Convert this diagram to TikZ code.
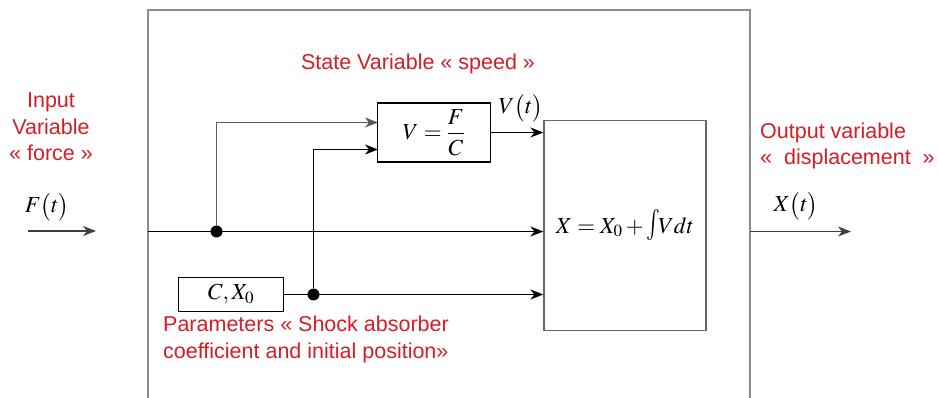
\documentclass[tikz,border=0pt]{standalone}
\usepackage{mathptmx}
\usepackage[no-math]{fontspec}
\setmainfont{Liberation Sans}
\usetikzlibrary{arrows.meta}
\definecolor{labelred}{RGB}{214,28,36}
\begin{document}
\begin{tikzpicture}[x=1pt, y=-1pt,
		block/.style={draw, line width=1.2pt, inner sep=0pt},
		wire/.style={line width=1.6pt},
		arr/.style={wire, -{Stealth[length=13pt, width=10pt, inset=4pt]}},
		junction/.style={circle, fill, inner sep=0pt, minimum size=12pt},
		redtext/.style={text=labelred, font=\fontsize{21.5}{26.5}\selectfont, align=center, inner sep=1pt},
		mathtext/.style={font=\fontsize{23}{27}\selectfont, inner sep=1pt},
	]
	\useasboundingbox (0,0) rectangle (938,398);

	% system frame, open at the bottom
	\draw[black!45, line width=1.8pt] (148,398) -- (148,10) -- (750,10) -- (750,398);

	\node[block, minimum width=113pt, minimum height=59pt, mathtext] (vbox) at (434,132.5) {$V=\displaystyle\frac{F}{C}$};
	\node[block, minimum width=105pt, minimum height=34pt, mathtext] (cbox) at (231,294.5) {$C, X_0$};
	\node[block, draw=black!60, minimum width=162pt, minimum height=210pt, mathtext] (xbox) at (625,225.5) {\raisebox{-6pt}{$X = X_0 + \scalebox{1}[1.35]{$\int$}\! V dt$}};

	\node[junction] (j1) at (216.5,231.5) {};
	\node[junction] (j2) at (313.5,294.5) {};

	\coordinate (fin) at (148,231.5);
	\coordinate (v in1) at (378,122.5);
	\coordinate (v in2) at (378,149.5);
	\coordinate (force start) at (28,231);
	\coordinate (force end) at (96,231);
	\coordinate (out start) at (750,231.5);
	\coordinate (out end) at (851,231.5);

	\draw[arr, black!75, line width=1.2pt] (force start) -- (force end);
	\draw[arr] (fin) -- (fin -| xbox.west);
	\draw[arr, black!65, line width=1.2pt] (j1) |- (v in1);
	\draw[arr] (j2) |- (v in2);
	\draw[arr] (cbox.east) -- (cbox.east -| xbox.west);
	\draw[arr] (vbox.east) -- (vbox.east -| xbox.west);
	\draw[arr, black!75, line width=1.2pt] (out start) -- (out end);

	\node[mathtext] (force lbl) at (47,207) {$F\bigl(t\bigr)$};
	\node[mathtext] (speed lbl) at (521,108) {$V\bigl(t\bigr)$};
	\node[mathtext] (disp lbl) at (796,206) {$X\bigl(t\bigr)$};

	\node[redtext] (input txt) at (51,127) {Input\\Variable\\« force »};
	\node[redtext] (state txt) at (418,64) {State Variable « speed »};
	\node[redtext, align=left, anchor=west] (param txt) at (162,339.5) {Parameters « Shock absorber\\coefficient and initial position»};
	\node[redtext, align=left, anchor=west] (output txt) at (759,146) {Output variable\\«~~displacement~~»};
\end{tikzpicture}
\end{document}
